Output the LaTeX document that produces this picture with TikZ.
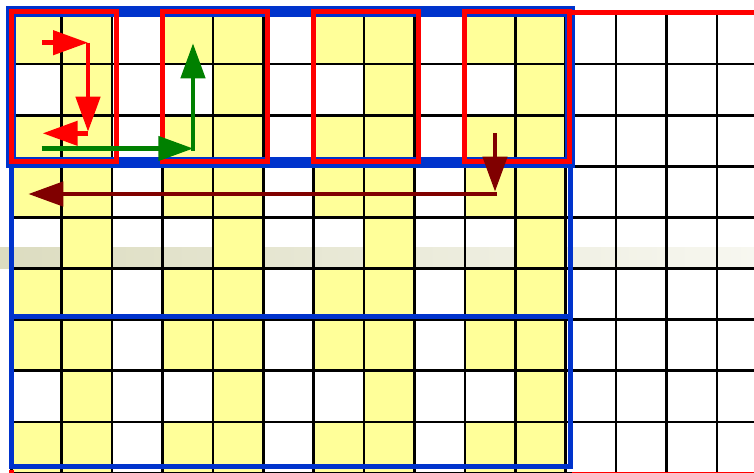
\documentclass[tikz,border=0pt]{standalone}
\usetikzlibrary{arrows.meta}
\definecolor{cellyellow}{RGB}{255,255,153}
\definecolor{frameblue}{RGB}{0,51,204}
\definecolor{framered}{RGB}{255,0,0}
\definecolor{arrgreen}{RGB}{0,128,0}
\definecolor{arrmaroon}{RGB}{128,0,0}
\definecolor{bandleft}{RGB}{220,220,192}
\definecolor{bandright}{RGB}{247,247,240}
\tikzset{
  gridline/.style={line width=2.6pt, black},
  bluethin/.style={draw=frameblue, line width=5pt},
  bluethick/.style={draw=frameblue, line width=10.5pt},
  redframe/.style={draw=framered, line width=5pt},
  bigarrow/.style={line width=4.5pt, -{Triangle[length=35pt,width=24pt]}},
}
\begin{document}
\begin{tikzpicture}[x=1pt,y=-1pt]
\useasboundingbox (0,0) rectangle (754,472);
\clip (0,0) rectangle (754,472);
\fill[white] (0,0) rectangle (754,472);
% translucent band behind the cells
\shade[left color=bandleft, right color=bandright] (0,247) rectangle (754,268.5);
% yellow cells
\foreach \c in {0,...,10}{
  \foreach \r in {0,...,8}{
    \pgfmathtruncatemacro\cmod{mod(\c,3)}
    \pgfmathtruncatemacro\rmod{mod(\r,3)}
    \ifnum\cmod=2\relax\else
      \ifnum\cmod=0\relax
        \ifnum\rmod=1\relax\else
          \fill[cellyellow] ({11.3+50.4*\c},{13+51.1*\r}) rectangle ({11.3+50.4*(\c+1)},{13+51.1*(\r+1)});
        \fi
      \else
        \fill[cellyellow] ({11.3+50.4*\c},{13+51.1*\r}) rectangle ({11.3+50.4*(\c+1)},{13+51.1*(\r+1)});
      \fi
    \fi
  }
}
% grid
\foreach \c in {0,...,14}{
  \draw[gridline] ({11.3+50.4*\c},13) -- ({11.3+50.4*\c},474);
}
\foreach \r in {0,...,9}{
  \draw[gridline] (11.3,{13+51.1*\r}) -- (756,{13+51.1*\r});
}
% blue frames
\draw[bluethin] (11.7,163) rectangle (570.5,316);
\draw[bluethin] (11.7,316) rectangle (570.5,466);
\draw[bluethick] (11,11.5) rectangle (570,162.5);
% red frames
\foreach \c in {0,3,6,9}{
  \draw[redframe] ({11.3+50.4*\c},11.5) rectangle ({11.3+50.4*\c+105},161);
}
\draw[redframe] (569.9,12) -- (756,12);
\draw[redframe] (11.5,469.5) -- (11.5,480);
\draw[draw=framered, line width=3pt] (572,473) -- (756,473);
% arrow coordinates
\coordinate (ra) at (42,42.7);
\coordinate (rb) at (88,42.7);
\coordinate (rc) at (88,131.7);
\coordinate (rd) at (88,133.3);
\coordinate (re) at (42.7,133.3);
\coordinate (ga) at (41.7,148.5);
\coordinate (gb) at (193.3,148.5);
\coordinate (gc) at (193,150.7);
\coordinate (gd) at (193,43.3);
\coordinate (ma) at (495,133.3);
\coordinate (mb) at (495,191.7);
\coordinate (mc) at (497.2,194);
\coordinate (md) at (28.3,194);
% red arrows
\draw[bigarrow, framered] (ra) -- (rb);
\draw[bigarrow, framered] (rb) -- (rc);
\draw[bigarrow, framered] (rd) -- (re);
% green arrows
\draw[bigarrow, arrgreen] (ga) -- (gb);
\draw[bigarrow, arrgreen] (gc) -- (gd);
% maroon arrows
\draw[bigarrow, arrmaroon] (ma) -- (mb);
\draw[bigarrow, arrmaroon] (mc) -- (md);
\end{tikzpicture}
\end{document}
